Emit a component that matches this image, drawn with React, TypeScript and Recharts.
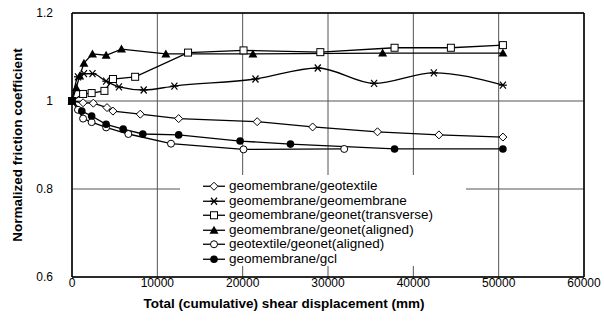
import React from 'react';
import { LineChart, Line, XAxis, YAxis, CartesianGrid, ReferenceLine } from 'recharts';

const xTicks = [0, 10000, 20000, 30000, 40000, 50000, 60000];
const yTicks = [0.6, 0.8, 1.0, 1.2];

const geotextileX = [0, 1300, 2500, 4100, 4800, 8000, 12500, 21700, 28200, 35800, 43000, 50500];
const geotextileY = [1.0, 0.996, 0.995, 0.985, 0.977, 0.97, 0.96, 0.953, 0.941, 0.93, 0.923, 0.918];

const geomembraneX = [0, 700, 1400, 2400, 4000, 5500, 8400, 12000, 21500, 28800, 35400, 42400, 50500];
const geomembraneY = [1.0, 1.055, 1.062, 1.062, 1.045, 1.032, 1.025, 1.034, 1.05, 1.075, 1.04, 1.064, 1.036];

const transverseX = [0, 1300, 2300, 3800, 4800, 7400, 13600, 20100, 29100, 37800, 44400, 50500];
const transverseY = [1.0, 1.016, 1.018, 1.023, 1.05, 1.055, 1.11, 1.115, 1.111, 1.121, 1.121, 1.127];

const alignedX = [0, 500, 900, 1400, 2400, 4000, 5800, 11000, 21200, 36400, 50500];
const alignedY = [1.0, 1.03, 1.057, 1.086, 1.107, 1.104, 1.118, 1.107, 1.107, 1.109, 1.109];

const textileNetX = [0, 700, 1300, 2300, 4000, 6600, 11600, 20100, 31900];
const textileNetY = [1.0, 0.98, 0.96, 0.952, 0.94, 0.925, 0.903, 0.89, 0.891];

const gclX = [0, 1150, 2300, 4000, 6000, 8300, 12500, 19700, 25600, 37800, 50500];
const gclY = [1.0, 0.977, 0.966, 0.947, 0.936, 0.925, 0.923, 0.909, 0.902, 0.891, 0.891];

const toRows = (xs: number[], ys: number[]) => xs.map((x, i) => ({ x, y: ys[i] }));

type Shape = 'diamond' | 'star' | 'square' | 'triangle' | 'circle' | 'dot';

const Marker = ({ cx, cy, shape }: { cx: number; cy: number; shape: Shape }) => {
  switch (shape) {
    case 'diamond':
      return <polygon points={`${cx},${cy - 4} ${cx + 4},${cy} ${cx},${cy + 4} ${cx - 4},${cy}`} fill="#fff" stroke="#000" strokeWidth={1} />;
    case 'star':
      return (
        <g stroke="#000" strokeWidth={1.2}>
          <line x1={cx - 4} y1={cy} x2={cx + 4} y2={cy} />
          <line x1={cx - 3} y1={cy - 3.5} x2={cx + 3} y2={cy + 3.5} />
          <line x1={cx - 3} y1={cy + 3.5} x2={cx + 3} y2={cy - 3.5} />
        </g>
      );
    case 'square':
      return <rect x={cx - 3.5} y={cy - 3.5} width={7} height={7} fill="#fff" stroke="#000" strokeWidth={1} />;
    case 'triangle':
      return <polygon points={`${cx},${cy - 4.5} ${cx + 4.5},${cy + 3.5} ${cx - 4.5},${cy + 3.5}`} fill="#000" />;
    case 'circle':
      return <circle cx={cx} cy={cy} r={3.5} fill="#fff" stroke="#000" strokeWidth={1} />;
    default:
      return <circle cx={cx} cy={cy} r={3.8} fill="#000" />;
  }
};

const series: { name: string; data: { x: number; y: number }[]; shape: Shape; curve: 'linear' | 'monotone' }[] = [
  { name: 'geomembrane/geotextile', data: toRows(geotextileX, geotextileY), shape: 'diamond', curve: 'linear' },
  { name: 'geomembrane/geomembrane', data: toRows(geomembraneX, geomembraneY), shape: 'star', curve: 'monotone' },
  { name: 'geomembrane/geonet(transverse)', data: toRows(transverseX, transverseY), shape: 'square', curve: 'linear' },
  { name: 'geomembrane/geonet(aligned)', data: toRows(alignedX, alignedY), shape: 'triangle', curve: 'linear' },
  { name: 'geotextile/geonet(aligned)', data: toRows(textileNetX, textileNetY), shape: 'circle', curve: 'linear' },
  { name: 'geomembrane/gcl', data: toRows(gclX, gclY), shape: 'dot', curve: 'linear' },
];

const font = '"Liberation Sans", Arial, Helvetica, sans-serif';

export default function App() {
  return (
    <div style={{ position: 'absolute', left: 0, top: 0, width: 604, height: 334, background: '#fff', fontFamily: font }}>
      <LineChart width={604} height={334} margin={{ top: 13, right: 20, bottom: 0, left: 0 }}>
        <CartesianGrid stroke="#555" strokeWidth={1} />
        <XAxis
          type="number"
          dataKey="x"
          domain={[0, 60000]}
          ticks={xTicks}
          height={57}
          tickLine={false}
          tickSize={0}
          tickMargin={1}
          axisLine={{ stroke: '#000', strokeWidth: 1.5 }}
          tick={{ fill: '#000', fontSize: 12, fontFamily: font }}
          label={{
            content: () => (
              <text x={284} y={308} textAnchor="middle" fontSize={13.5} fontWeight="bold" fontFamily={font} fill="#000">
                Total (cumulative) shear displacement (mm)
              </text>
            ),
          }}
        />
        <YAxis
          type="number"
          dataKey="y"
          domain={[0.6, 1.2]}
          ticks={yTicks}
          width={72}
          tickLine={false}
          tickSize={0}
          tickMargin={19}
          axisLine={{ stroke: '#000', strokeWidth: 1.5 }}
          tickFormatter={(v: number) => (v === 1 ? '1' : String(v))}
          tick={{ fill: '#000', fontSize: 12, fontFamily: font }}
          label={{
            content: () => (
              <text x={17} y={145} transform="rotate(-90 17 145)" textAnchor="middle" dominantBaseline="central" fontSize={13.5} fontWeight="bold" fontFamily={font} fill="#000">
                Normalized friction coefficient
              </text>
            ),
          }}
        />
        <ReferenceLine y={1.2} stroke="#000" strokeWidth={1.5} />
        <ReferenceLine x={60000} stroke="#000" strokeWidth={1.5} />
        {series.map((s) => (
          <Line
            key={s.name}
            data={s.data}
            dataKey="y"
            type={s.curve}
            stroke="#000"
            strokeWidth={1.3}
            isAnimationActive={false}
            dot={(p: any) => <Marker key={`${s.name}-${p.index}`} cx={p.cx} cy={p.cy} shape={s.shape} />}
            activeDot={false}
          />
        ))}
      </LineChart>
      <div
        style={{
          position: 'absolute',
          left: 180,
          top: 175,
          width: 286,
          height: 91,
          background: '#fff',
          paddingTop: 4,
          boxSizing: 'border-box',
        }}
      >
        {series.map((s) => (
          <div key={s.name} style={{ display: 'flex', alignItems: 'center', height: 14.5, fontSize: 13.5, lineHeight: '14.5px', color: '#000' }}>
            <svg width={46} height={14.5} style={{ flex: 'none' }}>
              <line x1={23} y1={7.25} x2={45} y2={7.25} stroke="#000" strokeWidth={1.3} />
              <Marker cx={34} cy={7.25} shape={s.shape} />
            </svg>
            <span style={{ whiteSpace: 'nowrap', marginLeft: 3 }}>{s.name}</span>
          </div>
        ))}
      </div>
    </div>
  );
}
